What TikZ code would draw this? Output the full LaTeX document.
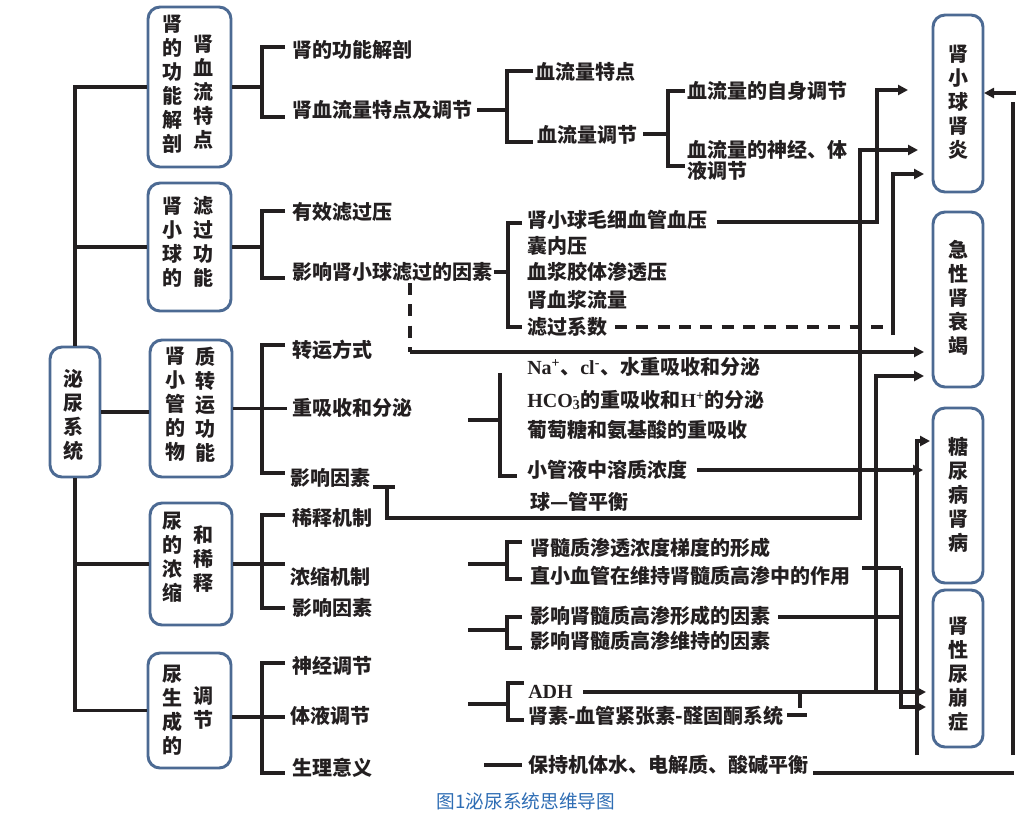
\documentclass[tikz,border=0pt]{standalone}
\usepackage{fontspec}
\setmainfont{Liberation Serif}
\newfontfamily\cjk{Noto Sans CJK SC}
\newfontfamily\tnr{Liberation Serif}
\usetikzlibrary{arrows.meta}
\definecolor{ink}{HTML}{231F20}
\definecolor{boxblue}{HTML}{4C6A93}
\definecolor{capblue}{HTML}{2E6DB4}
\tikzset{
 ln/.style={draw=ink, line width=2.3pt},
 arr/.style={draw=ink, line width=2.3pt, -{Triangle[length=7.5pt,width=7.5pt]}},
 dsh/.style={draw=ink, line width=2.3pt, dash pattern=on 9pt off 7pt},
 rbox/.style={draw=boxblue, line width=2.2pt, rounded corners=9pt, fill=white},
 col/.style={font=\cjk\bfseries\fontsize{15}{18}\selectfont, align=center, inner sep=0pt, text=ink},
 lab/.style={font=\cjk\bfseries\fontsize{15}{18}\selectfont, anchor=west, inner sep=0pt, text=ink, align=left},
}
\begin{document}
\begin{tikzpicture}[x=0.75pt,y=-0.75pt]
\useasboundingbox (0,0) rectangle (1030,815);
% ---------- boxes
\node[rbox, minimum width=62.25pt, minimum height=120pt] (b1) at (189.5,87) {};
\node[rbox, minimum width=62.25pt, minimum height=96pt] (b2) at (189.5,247) {};
\node[rbox, minimum width=37.5pt, minimum height=97.5pt] (main) at (75,412) {};
\node[rbox, minimum width=61.5pt, minimum height=102.75pt] (b3) at (191,408.5) {};
\node[rbox, minimum width=61.5pt, minimum height=91.5pt] (b4) at (191,564) {};
\node[rbox, minimum width=62.25pt, minimum height=86.25pt] (b5) at (189.5,710.5) {};
\node[rbox, minimum width=37.5pt, minimum height=132.75pt] (r1) at (958,103.5) {};
\node[rbox, minimum width=37.5pt, minimum height=131.25pt] (r2) at (958,299.5) {};
\node[rbox, minimum width=37.5pt, minimum height=131.25pt] (r3) at (958,495.5) {};
\node[rbox, minimum width=37.5pt, minimum height=117.75pt] (r4) at (958,668.5) {};
% ---------- box texts
\node[col] (b1l) at (172,84) {肾\\的\\功\\能\\解\\剖};
\node[col] (b1r) at (203,92.5) {肾\\血\\流\\特\\点};
\node[col] (b2l) at (172,242) {肾\\小\\球\\的};
\node[col] (b2r) at (203,242) {滤\\过\\功\\能};
\node[col] (mt) at (73,414.5) {泌\\尿\\系\\统};
\node[col] (b3l) at (175,404.5) {肾\\小\\管\\的\\物};
\node[col] (b3r) at (205,404.5) {质\\转\\运\\功\\能};
\node[col] (b4l) at (172,557) {尿\\的\\浓\\缩};
\node[col] (b4r) at (203,559) {和\\稀\\释};
\node[col] (b5l) at (172,710) {尿\\生\\成\\的};
\node[col] (b5r) at (203,708) {调\\节};
\node[col] (r1t) at (958,102.5) {肾\\小\\球\\肾\\炎};
\node[col] (r2t) at (958,298) {急\\性\\肾\\衰\\竭};
\node[col] (r3t) at (958,494.5) {糖\\尿\\病\\肾\\病};
\node[col] (r4t) at (958,674.5) {肾\\性\\尿\\崩\\症};
% ---------- labels
\node[lab] (t11) at (292,50) {肾的功能解剖};
\node[lab] (t12) at (292,110) {肾血流量特点及调节};
\node[lab] (t121) at (535,72) {血流量特点};
\node[lab] (t122) at (537,135) {血流量调节};
\node[lab] (t1221) at (687,91) {血流量的自身调节};
\node[lab, font=\cjk\bfseries\fontsize{15}{16}\selectfont] (t1222) at (687,160) {血流量的神经、体\\液调节};
\node[lab] (t21) at (292,212) {有效滤过压};
\node[lab] (t22) at (292,272) {影响肾小球滤过的因素};
\node[lab] (t221) at (527,220) {肾小球毛细血管血压};
\node[lab] (t222) at (527,246) {囊内压};
\node[lab] (t223) at (527,272) {血浆胶体渗透压};
\node[lab] (t224) at (527,300) {肾血浆流量};
\node[lab] (t225) at (527,327) {滤过系数};
\node[lab] (t31) at (292,350) {转运方式};
\node[lab] (t32) at (292,408) {重吸收和分泌};
\node[lab] (t33) at (290,478) {影响因素};
\node[lab] (t321) at (527,367) {{\tnr\bfseries Na\textsuperscript{+}}、{\tnr\bfseries cl\textsuperscript{-}}、水重吸收和分泌};
\node[lab] (t322) at (527,400) {{\tnr\bfseries HCO\rlap{\textsuperscript{-}}\textsubscript{3}}的重吸收和{\tnr\bfseries H\textsuperscript{+}}的分泌};
\node[lab] (t323) at (527,430) {葡萄糖和氨基酸的重吸收};
\node[lab] (t324) at (527,470) {小管液中溶质浓度};
\node[lab] (t325) at (530,502) {球—管平衡};
\node[lab] (t41) at (292,518) {稀释机制};
\node[lab] (t42) at (290,577) {浓缩机制};
\node[lab] (t43) at (292,608) {影响因素};
\node[lab] (t421) at (530,548) {肾髓质渗透浓度梯度的形成};
\node[lab] (t422) at (530,576) {直小血管在维持肾髓质高渗中的作用};
\node[lab] (t431) at (530,616) {影响肾髓质高渗形成的因素};
\node[lab] (t432) at (530,641) {影响肾髓质高渗维持的因素};
\node[lab] (t51) at (292,666) {神经调节};
\node[lab] (t52) at (290,716) {体液调节};
\node[lab] (t53) at (292,768) {生理意义};
\node[lab] (t521) at (528,692) {{\tnr\bfseries ADH}};
\node[lab] (t522) at (528,716) {肾素-血管紧张素-醛固酮系统};
\node[lab] (t531) at (528,765) {保持机体水、电解质、酸碱平衡};
\node[font=\cjk\fontsize{14}{16}\selectfont, text=capblue, inner sep=0pt] (cap) at (526,801) {图1泌尿系统思维导图};
% ---------- trunk
\draw[ln] (b1.west) -| (main.north);
\draw[ln] (b2.west) -- (b2.west -| main.north);
\draw[ln] (main.south) |- (b5.west);
\draw[ln] (b4.west) -- (b4.west -| main.south);
\draw[ln] (main.east) -- (main.east -| b3.west);
% ---------- level-2 brackets
\draw[ln] (b1.east) -- (262,87);
\draw[ln] (285,47) -- (262,47) -- (262,117) -- (285,117);
\draw[ln] (b2.east) -- (262,247);
\draw[ln] (285,211) -- (262,211) -- (262,278) -- (285,278);
\draw[ln] (b3.east) -- (287,408.5);
\draw[ln] (285,345) -- (262,345) -- (262,473) -- (285,473);
\draw[ln] (b4.east) -- (285,564);
\draw[ln] (285,515) -- (262,515) -- (262,608) -- (285,608);
\draw[ln] (b5.east |- 0,717) -- (285,717);
\draw[ln] (285,663) -- (262,663) -- (262,773) -- (285,773);
% ---------- level-3 brackets
\draw[ln] (477,110) -- (507,110);
\draw[ln] (533,71) -- (507,71) -- (507,142) -- (533,142);
\draw[ln] (643,134) -- (668,134);
\draw[ln] (685,91) -- (668,91) -- (668,166) -- (685,166);
\draw[ln] (494,272) -- (508,272);
\draw[ln] (522,223) -- (508,223) -- (508,327) -- (522,327);
\draw[ln] (468,420) -- (500,420);
\draw[ln] (500,373) -- (500,476) -- (517,476);
\draw[ln] (468,564) -- (507,564);
\draw[ln] (522,542) -- (507,542) -- (507,579) -- (522,579);
\draw[ln] (468,630) -- (507,630);
\draw[ln] (522,617) -- (507,617) -- (507,648) -- (522,648);
\draw[ln] (468,704) -- (508,704);
\draw[ln] (524,683) -- (508,683) -- (508,720) -- (524,720);
\draw[ln] (484,765) -- (522,765);
% ---------- cross connectors
\draw[arr] (717,222) -- (877,222) -- (877,90) -- (908,90);
\draw[ln] (373,487) -- (395,487);
\draw[arr] (387,487) -- (387,518) -- (860,518) -- (860,150) -- (918,150);
\draw[dsh] (615,327) -- (888,327);
\draw[arr] (893,335) -- (893,174) -- (924,174);
\draw[dsh] (410,283) -- (410,352);
\draw[arr] (410,352) -- (924,352);
\draw[arr] (583,692) -- (926,692);
\draw[arr] (876,692) -- (876,376) -- (924,376);
\draw[ln] (800,692) -- (800,708);
\draw[ln] (787,715) -- (807,715);
\draw[arr] (697,470) -- (923,470);
\draw[arr] (917,755) -- (917,441) -- (930,441);
\draw[ln] (862,568) -- (901,568);
\draw[ln] (778,617) -- (901,617);
\draw[arr] (901,568) -- (901,707) -- (926,707);
\draw[ln] (813,773) -- (1014,773);
\draw[ln] (1013,755) -- (1013,102);
\draw[arr] (1016,93) -- (984,93);
\end{tikzpicture}
\end{document}
